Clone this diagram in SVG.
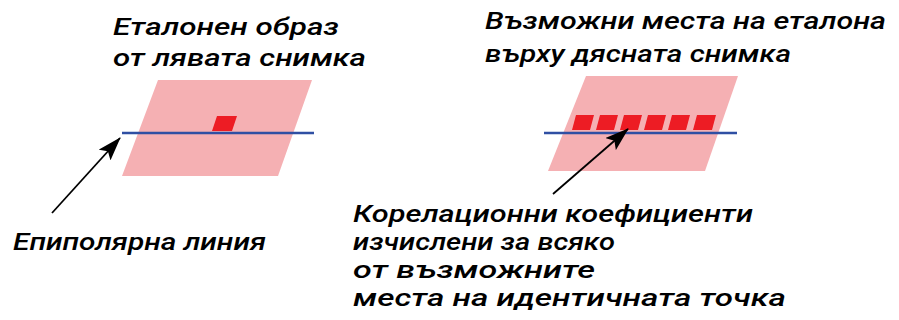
<svg xmlns="http://www.w3.org/2000/svg" width="899" height="320" viewBox="0 0 899 320">
  <style>
    .img { fill: #f5b0b3; }
    .patch { fill: #ed1c24; }
    .epi { stroke: #2f4fa3; stroke-width: 2.5; fill: none; }
    .lbl { font-family: Roboto, "Noto Sans", "Liberation Sans", sans-serif; font-style: italic; font-weight: 500; font-size: 23px; fill: #000; }
    .conn { stroke: #000; stroke-width: 1.8; fill: none; }
  </style>
  <defs>
    <marker id="head" viewBox="0 0 24 16" refX="23" refY="8" markerWidth="24" markerHeight="16" markerUnits="userSpaceOnUse" orient="auto">
      <path d="M0,0 L24,8 L0,16 L5,8 Z" fill="#000"/>
    </marker>
  </defs>
  <rect width="899" height="320" fill="#fff"/>

  <!-- left image with the reference patch -->
  <g id="left-image">
    <polygon class="img" points="158,80 312,80 278,176 122,176"/>
    <polygon class="patch" points="217,116 237,116 232,131 212,131"/>
    <line class="epi" x1="122" y1="133" x2="314" y2="133"/>
  </g>

  <!-- right image with candidate patch positions -->
  <g id="right-image">
    <polygon class="img" points="586,76 738,76 705,171 548,171"/>
    <polygon class="patch" points="576,115 594,115 590,130 572,130"/>
    <polygon class="patch" points="600,115 618,115 614,130 596,130"/>
    <polygon class="patch" points="624,115 642,115 638,130 620,130"/>
    <polygon class="patch" points="648,115 666,115 662,130 644,130"/>
    <polygon class="patch" points="672,115 690,115 686,130 668,130"/>
    <polygon class="patch" points="697,115 716,115 712,130 693,130"/>
    <line class="epi" x1="544" y1="133" x2="737" y2="133"/>
  </g>

  <g id="label-template">
    <text class="lbl" x="113" y="35" textLength="226" lengthAdjust="spacingAndGlyphs">Еталонен образ</text>
    <text class="lbl" x="113" y="66" textLength="253" lengthAdjust="spacingAndGlyphs">от лявата снимка</text>
  </g>

  <g id="label-positions">
    <text class="lbl" x="485" y="29" textLength="401" lengthAdjust="spacingAndGlyphs">Възможни места на еталона</text>
    <text class="lbl" x="485" y="62" textLength="306" lengthAdjust="spacingAndGlyphs">върху дясната снимка</text>
  </g>

  <g id="label-epipolar">
    <text class="lbl" x="13" y="250" textLength="253" lengthAdjust="spacingAndGlyphs">Епиполярна линия</text>
  </g>

  <g id="label-correlation">
    <text class="lbl" x="353" y="222" textLength="400" lengthAdjust="spacingAndGlyphs">Корелационни коефициенти</text>
    <text class="lbl" x="353" y="250" textLength="262" lengthAdjust="spacingAndGlyphs">изчислени за всяко</text>
    <text class="lbl" x="353" y="278" textLength="242" lengthAdjust="spacingAndGlyphs">от възможните</text>
    <text class="lbl" x="353" y="306" textLength="433" lengthAdjust="spacingAndGlyphs">места на идентичната точка</text>
  </g>

  <g id="connectors">
    <line class="conn" x1="52" y1="213" x2="120" y2="138" marker-end="url(#head)"/>
    <line class="conn" x1="553" y1="194" x2="628" y2="129" marker-end="url(#head)"/>
  </g>
</svg>
